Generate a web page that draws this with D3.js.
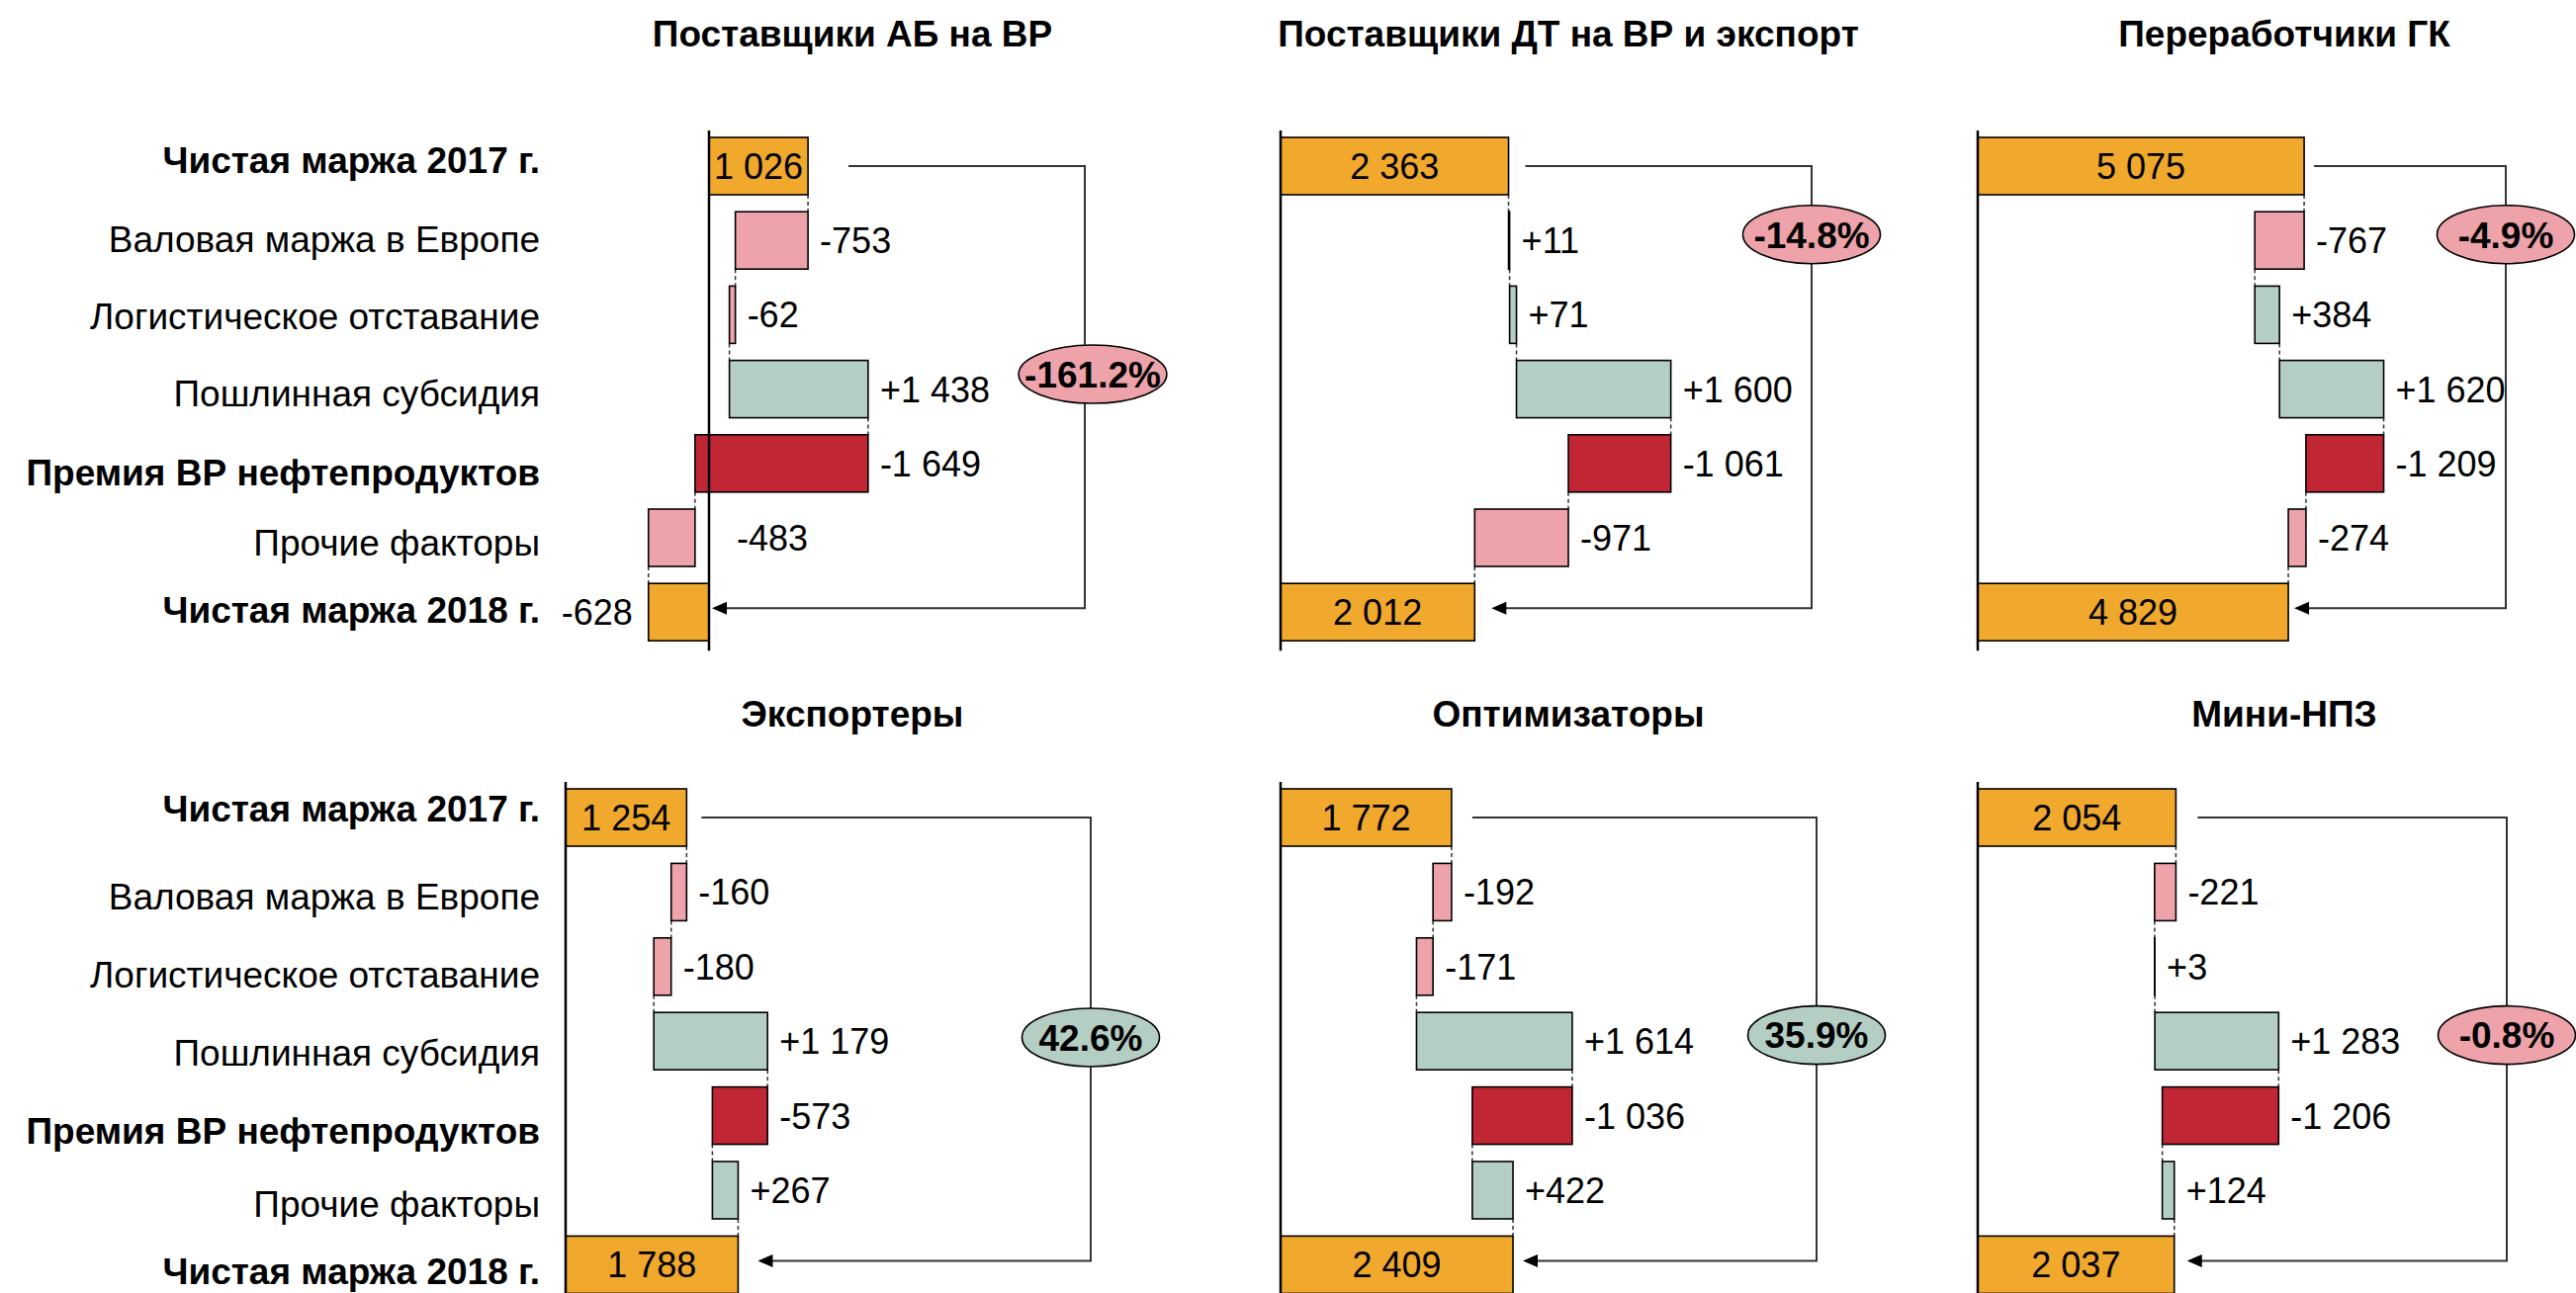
<!DOCTYPE html>
<html>
<head>
<meta charset="utf-8">
<script src="https://cdn.jsdelivr.net/npm/d3@7"></script>
<style>
  body { margin: 0; background: #fff; }
  text { font-family: "Liberation Sans", Arial, sans-serif; fill: #000; }
</style>
</head>
<body>
<script>
const panelTitles = ['Поставщики АБ на ВР', 'Поставщики ДТ на ВР и экспорт', 'Переработчики ГК',
    'Экспортеры', 'Оптимизаторы', 'Мини-НПЗ'];

const categories = ['Чистая маржа 2017 г.', 'Валовая маржа в Европе', 'Логистическое отставание',
    'Пошлинная субсидия', 'Премия ВР нефтепродуктов', 'Прочие факторы', 'Чистая маржа 2018 г.'];
const boldCategories = ['Чистая маржа 2017 г.', 'Премия ВР нефтепродуктов', 'Чистая маржа 2018 г.'];

const startTotals = [1026, 2363, 5075, 1254, 1772, 2054];
const endTotals = [-628, 2012, 4829, 1788, 2409, 2037];

// deltas in category order 1..5
const deltaValues = [
    [-753, -62, 1438, -1649, -483],
    [11, 71, 1600, -1061, -971],
    [-767, 384, 1620, -1209, -274],
    [-160, -180, 1179, -573, 267],
    [-192, -171, 1614, -1036, 422],
    [-221, 3, 1283, -1206, 124]
];

const changePct = [-161.2, -14.8, -4.9, 42.6, 35.9, -0.8];

// x axis extent per panel (units over 400px)
const xDomainMax = [4100, 4100, 6150, 4100, 4100, 4100];

const premiumIdx = 3; // index of 'Премия' among deltas

const colors = {
    total: '#F0A82D',
    neg: '#EDA3A9',
    pos: '#B4CEC3',
    premium: '#C12634'
};

// layout
const W = 2605, H = 1308;
const axisX = [717, 1295, 2000, 572, 1295, 2000];
const titleX = [862, 1586, 2310, 862, 1586, 2310];
const titleY = [47, 735];
const rowTop = [139, 798];
const rowStep = [75.2, 75.4];
const barH = 58;
const connectorX = [1097, 1832, 2534, 1103, 1837, 2535];
const bubbleDx = [8, 0, 0, 0, 0, 0];
const bubbleRow = [2.8, 0.92, 0.92, 2.95, 2.92, 2.92];
const lineGap = [41, 17, 10, 15, 21, 22];
const arrowGap = [3, 17, 6, 20, 10, 13];
const labelShift = [
    [-6, -2, 1, 4, 9, 5, -3],
    [-9, 4, 8, 11, 15, 14, 6]
];
const labelRight = 546;
const plotW = 400;

const fmt = v => {
    const s = d3.format(',')(Math.abs(v)).replace(/,/g, ' ');
    return (v < 0 ? '-' : '') + s;
};
const fmtDelta = v => (v > 0 ? '+' : '') + fmt(v);
const fmtPct = v => (v < 0 ? '-' : '') + d3.format('.1f')(Math.abs(v)) + '%';

const svg = d3.select('body').append('svg')
    .attr('width', W)
    .attr('height', H);

function segments(p) {
    const d = deltaValues[p];
    const segs = [];
    let cur = startTotals[p];
    for (let i = 0; i < premiumIdx; i++) {
        segs[i] = [cur, cur + d[i]];
        cur += d[i];
    }
    let back = endTotals[p];
    for (let i = d.length - 1; i > premiumIdx; i--) {
        segs[i] = [back - d[i], back];
        back -= d[i];
    }
    segs[premiumIdx] = [cur, back];
    const rows = [{ cat: categories[0], a: 0, b: startTotals[p], v: startTotals[p], type: 'total' }];
    d.forEach((v, i) => {
        rows.push({
            cat: categories[i + 1],
            a: segs[i][0],
            b: segs[i][1],
            v: v,
            type: i === premiumIdx ? 'premium' : (v < 0 ? 'neg' : 'pos')
        });
    });
    rows.push({ cat: categories[6], a: 0, b: endTotals[p], v: endTotals[p], type: 'total' });
    return rows;
}

function measure(str, size, weight) {
    const t = svg.append('text')
        .attr('font-size', size)
        .attr('font-weight', weight)
        .text(str);
    const w = t.node().getComputedTextLength();
    t.remove();
    return w;
}

function drawPanel(p) {
    const r = Math.floor(p / 3);
    const rows = segments(p);

    const x = d3.scaleLinear()
        .domain([0, xDomainMax[p]])
        .range([axisX[p], axisX[p] + plotW]);

    const y = d3.scaleBand()
        .domain(categories)
        .range([rowTop[r], rowTop[r] + 6 * rowStep[r] + barH])
        .paddingInner(1 - barH / rowStep[r])
        .paddingOuter(0);

    const yc = c => y(c) + y.bandwidth() / 2;

    const g = svg.append('g').attr('class', 'panel');

    g.append('text')
        .attr('x', titleX[p])
        .attr('y', titleY[r])
        .attr('text-anchor', 'middle')
        .attr('font-size', 37)
        .attr('font-weight', 'bold')
        .text(panelTitles[p]);

    // category labels, left column only
    if (p % 3 === 0) {
        g.selectAll('.cat')
            .data(categories)
            .enter()
            .append('text')
            .attr('class', 'cat')
            .attr('x', labelRight)
            .attr('y', (d, i) => yc(d) + labelShift[r][i])
            .attr('dy', '0.36em')
            .attr('text-anchor', 'end')
            .attr('font-size', 37)
            .attr('font-weight', d => boldCategories.includes(d) ? 'bold' : 'normal')
            .text(d => d);
    }

    // dashed links between bars
    for (let i = 0; i < rows.length - 1; i++) {
        const link = rows[i].b;
        g.append('line')
            .attr('x1', x(link))
            .attr('x2', x(link))
            .attr('y1', y(rows[i].cat) + y.bandwidth())
            .attr('y2', y(rows[i + 1].cat))
            .attr('stroke', '#333')
            .attr('stroke-width', 1.5)
            .attr('stroke-dasharray', '4,3');
    }

    // bars
    g.selectAll('.bar')
        .data(rows)
        .enter()
        .append('rect')
        .attr('class', 'bar')
        .attr('x', d => x(Math.min(d.a, d.b)))
        .attr('y', d => y(d.cat))
        .attr('width', d => Math.abs(x(d.b) - x(d.a)))
        .attr('height', y.bandwidth())
        .attr('fill', d => colors[d.type])
        .attr('stroke', '#000')
        .attr('stroke-width', 1.6);

    // zero axis
    const axisBottom = r === 0 ? y(categories[6]) + y.bandwidth() + 10 : H;
    g.append('line')
        .attr('x1', x(0))
        .attr('x2', x(0))
        .attr('y1', rowTop[r] - 7)
        .attr('y2', axisBottom)
        .attr('stroke', '#000')
        .attr('stroke-width', 2.5);

    // value labels
    rows.forEach(d => {
        const lo = x(Math.min(d.a, d.b)), hi = x(Math.max(d.a, d.b));
        const t = g.append('text')
            .attr('y', yc(d.cat))
            .attr('dy', '0.36em')
            .attr('font-size', 36);
        if (d.type === 'total') {
            const str = fmt(d.v);
            const tw = measure(str, 36, 'normal');
            if (tw + 6 < hi - lo) {
                t.attr('x', (lo + hi) / 2).attr('text-anchor', 'middle');
            } else if (d.v < 0) {
                t.attr('x', lo - 16).attr('text-anchor', 'end');
            } else {
                t.attr('x', hi + 12).attr('text-anchor', 'start');
            }
            t.text(str);
        } else {
            t.attr('x', Math.max(hi + 12, x(0) + 28))
                .attr('text-anchor', 'start')
                .text(fmtDelta(d.v));
        }
    });

    // change connector with arrow
    const first = rows[0], last = rows[rows.length - 1];
    const y1 = yc(first.cat), y2 = yc(last.cat) - 4;
    const xStart = Math.max(x(first.a), x(first.b)) + lineGap[p];
    const xTip = Math.max(x(last.a), x(last.b)) + arrowGap[p];
    const cx = connectorX[p];

    g.append('path')
        .attr('d', `M${xStart},${y1}H${cx}V${y2}H${xTip + 14}`)
        .attr('fill', 'none')
        .attr('stroke', '#333')
        .attr('stroke-width', 2);

    g.append('path')
        .attr('d', `M${xTip},${y2}L${xTip + 15},${y2 - 6.5}L${xTip + 15},${y2 + 6.5}Z`)
        .attr('fill', '#000');

    // bubble
    const by = yc(categories[0]) + bubbleRow[p] * rowStep[r];
    const bx = cx + bubbleDx[p];
    const pctStr = fmtPct(changePct[p]);
    const pw = measure(pctStr, 37, 'bold');
    const rx = Math.max(69.5, pw / 2 + 6);

    g.append('ellipse')
        .attr('cx', bx)
        .attr('cy', by)
        .attr('rx', rx)
        .attr('ry', 29.5)
        .attr('fill', changePct[p] < 0 ? colors.neg : colors.pos)
        .attr('stroke', '#000')
        .attr('stroke-width', 1.6);

    g.append('text')
        .attr('x', bx)
        .attr('y', by)
        .attr('dy', '0.36em')
        .attr('text-anchor', 'middle')
        .attr('font-size', 37)
        .attr('font-weight', 'bold')
        .text(pctStr);
}

panelTitles.forEach((t, p) => drawPanel(p));
</script>
</body>
</html>
